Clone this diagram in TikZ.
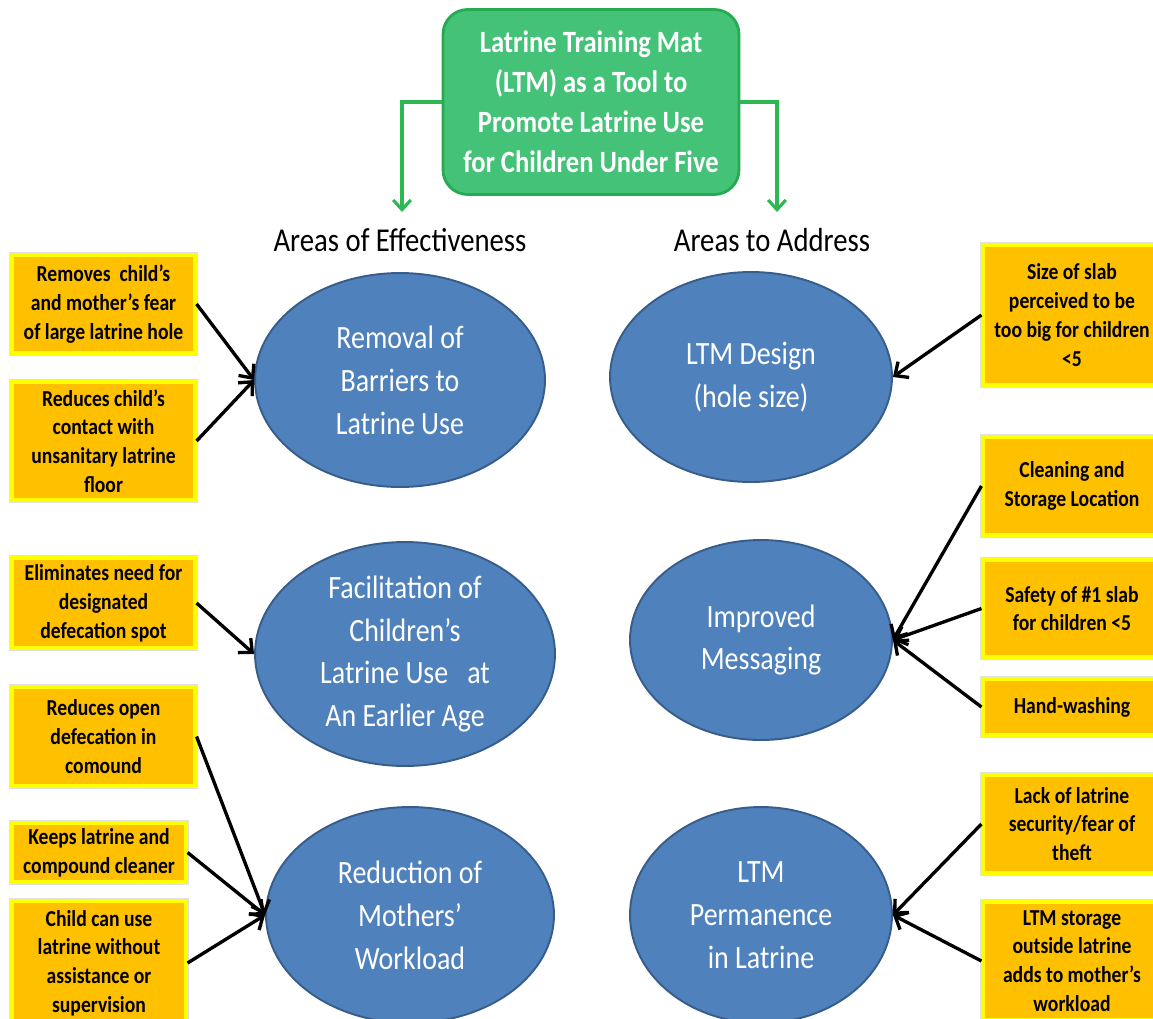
\documentclass[tikz,border=0pt]{standalone}
\usepackage{fontspec}
\setmainfont{Carlito}[FakeStretch=0.86]
\usetikzlibrary{shapes.geometric,arrows.meta}

\definecolor{matfill}{RGB}{68,194,120}
\definecolor{matedge}{RGB}{38,170,82}
\definecolor{matarrow}{RGB}{46,184,84}
\definecolor{areafill}{RGB}{79,129,189}
\definecolor{areaedge}{RGB}{56,93,138}
\definecolor{notefill}{RGB}{255,192,0}
\definecolor{noteedge}{RGB}{255,255,0}

\begin{document}
\begin{tikzpicture}[x=0.02cm,y=-0.02cm,
  area/.style={ellipse,draw=areaedge,line width=1.1pt,fill=areafill,text=white,
    align=center,inner sep=0pt,font=\fontsize{18.5}{24.4}\selectfont},
  note/.style={rectangle,draw=noteedge,line width=1.8pt,fill=notefill,align=center,
    inner sep=0pt,preaction={draw=black!12,line width=3.2pt},
    font=\bfseries\fontsize{13}{16.4}\selectfont},
  heading/.style={font=\fontsize{19}{22}\selectfont},
  link/.style={line width=1.9pt,-{Straight Barb[length=6pt,width=11pt]}},
  branch/.style={matarrow,line width=1.8pt,-{Straight Barb[length=5.5pt,width=10pt]}}]
  \useasboundingbox (0,0) rectangle (1153,1018);

  % title box and its two branches
  \node[rectangle,rounded corners=14pt,draw=matedge,line width=1.6pt,fill=matfill,
    text=white,align=center,minimum width=5.92cm,minimum height=3.7cm,
    font=\bfseries\fontsize{17.6}{22.7}\selectfont] (mat) at (591,102)
    {Latrine Training Mat\\(LTM) as a Tool to\\Promote Latrine Use\\for Children Under Five};
  \coordinate (effect) at (402,212);
  \coordinate (address) at (777,212);
  \draw[branch] (mat.west) -| (effect);
  \draw[branch] (mat.east) -| (address);
  \node[heading] (effhead) at (400,240) {Areas of Effectiveness};
  \node[heading] (addhead) at (772,240) {Areas to Address};

  % the six areas
  \node[area,minimum width=5.8cm,minimum height=4.28cm] (barriers) at (400,380)
    {Removal of\\Barriers to\\Latrine Use};
  \node[area,minimum width=5.64cm,minimum height=4.2cm] (design) at (751,377)
    {LTM Design\\(hole size)};
  \node[area,minimum width=6cm,minimum height=4.48cm] (earlier) at (405,654)
    {Facilitation of\\Children's\\Latrine Use\ \ \ at\\An Earlier Age};
  \node[area,minimum width=5.24cm,minimum height=4cm] (messaging) at (761,640)
    {Improved\\Messaging};
  \node[area,minimum width=5.76cm,minimum height=4.32cm] (workload) at (410,915)
    {Reduction of\\Mothers'\\Workload};
  \node[area,minimum width=5.24cm,minimum height=4.32cm] (permanence) at (761,915)
    {LTM\\Permanence\\in Latrine};

  % notes on the left
  \node[note,minimum width=3.66cm,minimum height=1.96cm] (fear) at (103.5,304)
    {Removes\ \ child's\\and mother's fear\\of large latrine hole};
  \node[note,minimum width=3.66cm,minimum height=2.36cm] (contact) at (103.5,441)
    {Reduces child's\\contact with\\unsanitary latrine\\floor};
  \node[note,minimum width=3.66cm,minimum height=1.8cm] (spot) at (103.5,603)
    {Eliminates need for\\designated\\defecation spot};
  \node[note,minimum width=3.66cm,minimum height=1.98cm] (open) at (103.5,736.5)
    {Reduces open\\defecation in\\comound};
  \node[note,minimum width=3.48cm,minimum height=1.18cm] (cleaner) at (99,852.5)
    {Keeps latrine and\\compound cleaner};
  \node[note,minimum width=3.48cm,minimum height=2.48cm] (assist) at (99,963)
    {Child can use\\latrine without\\assistance or\\supervision};

  % notes on the right
  \node[note,minimum width=3.56cm,minimum height=2.8cm] (slab) at (1072,315)
    {Size of slab\\perceived to be\\too big for children\\<5};
  \node[note,minimum width=3.56cm,minimum height=1.96cm] (storage) at (1072,486)
    {Cleaning and\\Storage Location};
  \node[note,minimum width=3.56cm,minimum height=1.94cm] (safety) at (1072,608.5)
    {Safety of \#1 slab\\for children <5};
  \node[note,minimum width=3.56cm,minimum height=1.12cm] (washing) at (1072,707)
    {Hand-washing};
  \node[note,minimum width=3.56cm,minimum height=1.96cm] (theft) at (1072,824)
    {Lack of latrine\\security/fear of\\theft};
  \node[note,minimum width=3.56cm,minimum height=2.36cm] (outside) at (1072,961)
    {LTM storage\\outside latrine\\adds to mother's\\workload};

  % connectors
  \foreach \from/\to in {fear/barriers,contact/barriers,spot/earlier,
      open/workload,cleaner/workload,assist/workload}
    \draw[link] (\from.east) -- (\to.west);
  \foreach \from/\to in {slab/design,storage/messaging,safety/messaging,
      washing/messaging,theft/permanence,outside/permanence}
    \draw[link] (\from.west) -- (\to.east);
\end{tikzpicture}
\end{document}
